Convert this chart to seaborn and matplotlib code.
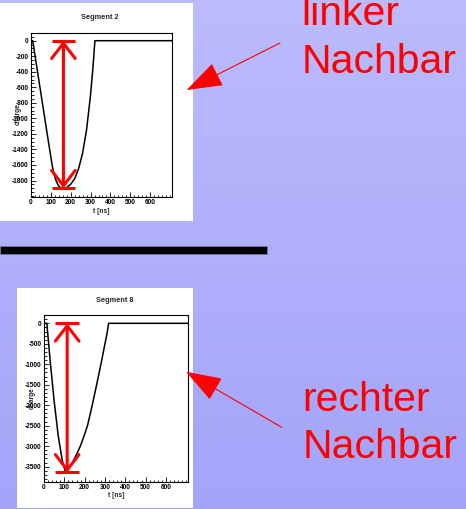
import numpy as np
import pandas as pd
import matplotlib
matplotlib.use("Agg")
import matplotlib.pyplot as plt
from matplotlib.patches import Rectangle, FancyArrowPatch
from matplotlib.ticker import MultipleLocator
import seaborn as sns

# Pulse of segment 2 (left neighbour): time [ns] and charge
seg2_t = [0, 10, 30, 50, 70, 90, 110, 125, 140, 155, 165, 180, 200, 220, 240, 260, 280, 300, 312, 322, 710]
seg2_charge = [0, 0, -330, -660, -990, -1320, -1640, -1790, -1870, -1900, -1900, -1890, -1850, -1780,
               -1650, -1450, -1150, -700, -350, 0, 0]

# Pulse of segment 8 (right neighbour)
seg8_t = [0, 14, 30, 50, 70, 90, 106, 120, 140, 160, 179, 195, 214, 235, 259, 280, 300, 310, 318, 710]
seg8_charge = [0, 0, -900, -1900, -2750, -3350, -3640, -3560, -3400, -3200, -3000, -2780,
               -2500, -2050, -1500, -1000, -500, -250, 0, 0]

x_ticks = [0, 100, 200, 300, 400, 500, 600]
seg2_yticks = [0, -200, -400, -600, -800, -1000, -1200, -1400, -1600, -1800]
seg8_yticks = [0, -500, -1000, -1500, -2000, -2500, -3000, -3500]

W, H = 466, 509
sns.set_style("white")
plt.rcParams["font.family"] = ["Liberation Sans", "DejaVu Sans"]

fig = plt.figure(figsize=(W / 100, H / 100), dpi=100)


def fx(px):
    return px / W


def fy(py):
    return 1 - py / H


# slide background: soft vertical lavender gradient
bg = fig.add_axes([0, 0, 1, 1], zorder=-10)
g = np.linspace(0, 1, 256)[:, None, None]
c_top = np.array([187, 187, 253]) / 255
c_bot = np.array([164, 164, 250]) / 255
bg.imshow(c_top * (1 - g) + c_bot * g, aspect="auto", extent=[0, 1, 0, 1])
bg.axis("off")


def white_box(x0, y0, x1, y1):
    fig.patches.append(Rectangle((fx(x0), fy(y1)), (x1 - x0) / W, (y1 - y0) / H,
                                 transform=fig.transFigure, facecolor="white",
                                 edgecolor="none", zorder=-5))


def panel(frame, t, q, title, title_xy, yticks, ylim, yminor, arrow_t, ylab_x, xlab_y):
    left, top, right, bottom = frame
    ax = fig.add_axes([fx(left), fy(bottom), (right - left) / W, (bottom - top) / H])
    df = pd.DataFrame({"t": t, "charge": q})
    sns.lineplot(data=df, x="t", y="charge", sort=False, color="black", lw=1.1, ax=ax)
    ax.set_xlim(0, 710)
    ax.set_ylim(*ylim)
    ax.set_xticks(x_ticks)
    ax.set_xticklabels([str(v) for v in x_ticks])
    ax.set_yticks(yticks)
    ax.set_yticklabels([str(v) for v in yticks])
    ax.xaxis.set_minor_locator(MultipleLocator(20))
    ax.yaxis.set_minor_locator(MultipleLocator(yminor))
    ax.tick_params(which="both", direction="in", top=False, right=False, bottom=True,
                   left=True, width=0.6, colors="black", labelsize=4.7, pad=1.6)
    ax.tick_params(axis="x", which="both", pad=1.5)
    ax.tick_params(which="major", length=3.6)
    ax.tick_params(which="minor", length=1.8)
    for lbl in ax.get_xticklabels() + ax.get_yticklabels():
        lbl.set_fontweight("bold")
    for s in ax.spines.values():
        s.set_color("black")
        s.set_linewidth(0.8)
    ax.set_xlabel("t [ns]", fontsize=4.8, fontweight="bold")
    ax.xaxis.label.set_va("center")
    ax.xaxis.set_label_coords(0.5, (bottom - xlab_y) / (bottom - top))
    ax.set_ylabel("charge", fontsize=4.8, fontweight="bold")
    ax.yaxis.label.set_va("center")
    ax.yaxis.set_label_coords((ylab_x - left) / (right - left), 0.5)
    fig.text(fx(title_xy[0]), fy(title_xy[1]), title, ha="center", va="center",
             fontsize=5.3, fontweight="bold")

    # amplitude marker: double arrow from baseline to pulse minimum
    qmin = min(q)
    ax.annotate("", xy=(arrow_t, qmin), xytext=(arrow_t, 0),
                arrowprops=dict(arrowstyle="<->,head_length=1.1,head_width=0.85",
                                mutation_scale=10, color="red", lw=2.2,
                                shrinkA=0, shrinkB=0))
    ax.hlines([0, qmin], arrow_t - 58, arrow_t + 58, color="red", lw=2.2, clip_on=False)
    return ax


white_box(0, 3, 193, 221)
white_box(17, 288, 193, 508)

panel((30.7, 32.7, 172.3, 196.5), seg2_t, seg2_charge, "Segment 2", (100, 17.3),
      seg2_yticks, (-2006, 103), 50, 164, 18, 211.8)
panel((44, 315, 188.3, 481.7), seg8_t, seg8_charge, "Segment 8", (115, 300),
      seg8_yticks, (-3868, 203), 100, 114, 32, 495.5)

# separator bar
fig.patches.append(Rectangle((0, fy(254.3)), 266.7 / W, 8.3 / H, transform=fig.transFigure,
                             facecolor="black", edgecolor="#7a7aa8", lw=0.5, zorder=-4))

# pointers to the neighbour plots
for tip, tail in [((186.7, 90), (280, 43)), ((186, 371.7), (281.7, 427.3))]:
    fig.add_artist(FancyArrowPatch(
        (tail[0] / W, fy(tail[1])), (tip[0] / W, fy(tip[1])), transform=fig.transFigure,
        arrowstyle="-|>,head_length=2.3,head_width=0.8", mutation_scale=10,
        color="red", lw=0.8, shrinkA=0, shrinkB=0))

for txt, x, y in [("linker", 301.7, 25), ("Nachbar", 301.7, 72.7),
                  ("rechter", 302.7, 411), ("Nachbar", 302.7, 457.7)]:
    fig.text(fx(x), fy(y), txt, ha="left", va="baseline", fontsize=29.5, color="#ff0000")

fig.savefig("out.png", dpi=100)
